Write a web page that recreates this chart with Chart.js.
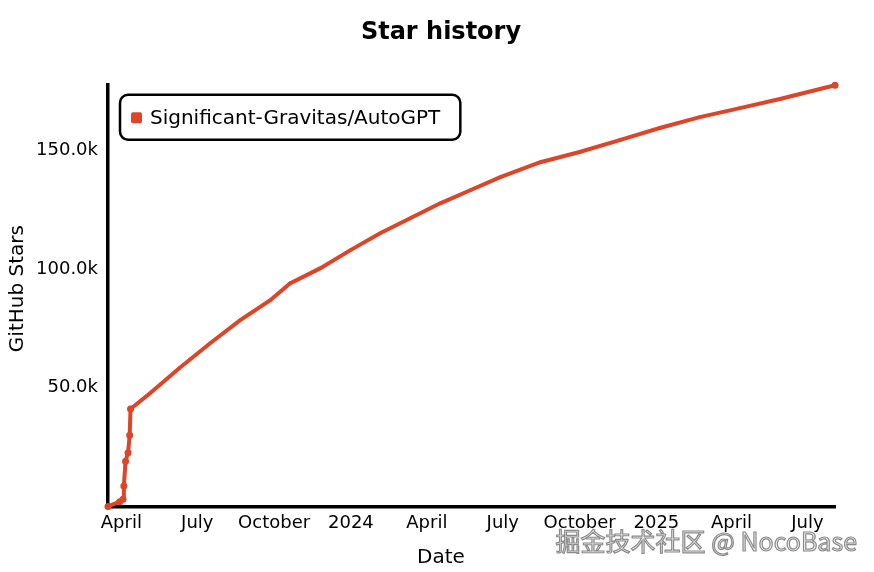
<!DOCTYPE html>
<html>
<head>
<meta charset="utf-8">
<script src="https://cdn.jsdelivr.net/npm/chart.js@4/dist/chart.umd.min.js"></script>
<style>
  html, body { margin: 0; padding: 0; background: #fff; }
  #wrap { width: 874px; height: 572px; }
</style>
</head>
<body>
<div id="wrap"><canvas id="chart" width="874" height="572"></canvas></div>
<script>
// star history of Significant-Gravitas/AutoGPT
const repoName = 'Significant-Gravitas/AutoGPT';
const dates = [
  '2023-03-16', '2023-03-30', '2023-04-03', '2023-04-04', '2023-04-06',
  '2023-04-09', '2023-04-11', '2023-04-12', '2023-05-05', '2023-06-10',
  '2023-07-16', '2023-08-21', '2023-09-26', '2023-10-20', '2023-11-25',
  '2023-12-31', '2024-02-05', '2024-03-12', '2024-04-17', '2024-05-23',
  '2024-06-28', '2024-08-15', '2024-10-01', '2024-11-18', '2025-01-05',
  '2025-02-22', '2025-04-11', '2025-05-29', '2025-08-03'
];
const stars = [
  0, 2000, 3000, 8600, 19000,
  22600, 30000, 41000, 47500, 58400,
  68600, 78300, 86700, 93900, 100200,
  107800, 115000, 121300, 127600, 133100,
  138600, 144900, 149200, 154200, 159300,
  163900, 167700, 171500, 177300
];
const tickDates = [
  '2023-04-01', '2023-07-01', '2023-10-01', '2024-01-01', '2024-04-01',
  '2024-07-01', '2024-10-01', '2025-01-01', '2025-04-01', '2025-07-01'
];
const tickLabels = ['April', 'July', 'October', '2024', 'April', 'July', 'October', '2025', 'April', 'July'];
const yTicks = [50000, 100000, 150000];
const yMax = 177500;

const DAY = 86400000;
const toDay = (s) => Date.parse(s + 'T00:00:00Z') / DAY;

const lineColor = '#dd4528';
const font = 'DejaVu Sans';

// legend drawn as a rounded box inside the plot
const legendBox = {
  id: 'legendBox',
  afterDatasetsDraw(chart) {
    const { ctx, chartArea } = chart;
    const ds = chart.data.datasets[0];
    const x = chartArea.left + 12, y = chartArea.top + 10;
    ctx.save();
    ctx.font = '20px "' + font + '"';
    const w = ctx.measureText(ds.label).width + 50;
    const h = 45;
    ctx.lineWidth = 2.5;
    ctx.strokeStyle = '#000';
    ctx.fillStyle = '#fff';
    ctx.beginPath();
    ctx.roundRect(x, y, w, h, 8);
    ctx.fill();
    ctx.stroke();
    ctx.fillStyle = ds.borderColor;
    ctx.beginPath();
    ctx.roundRect(x + 11, y + h / 2 - 5, 11, 11, 2);
    ctx.fill();
    ctx.fillStyle = '#000';
    ctx.textBaseline = 'middle';
    ctx.fillText(ds.label, x + 30, y + h / 2 + 1);
    ctx.restore();
  }
};

// titles are laid out by Chart.js (transparent) and painted centred on the page
const titles = {
  id: 'titles',
  afterDraw(chart) {
    const { ctx, scales, chartArea } = chart;
    const cx = chart.width / 2 + 4;
    ctx.save();
    ctx.fillStyle = '#000';
    ctx.textAlign = 'center';
    ctx.textBaseline = 'middle';
    ctx.font = 'bold 24px "' + font + '"';
    ctx.fillText('Star history', cx, 33);
    ctx.font = '20px "' + font + '"';
    ctx.fillText('Date', cx, scales.x.bottom - 10);
    ctx.translate(18, (chartArea.top + chartArea.bottom) / 2 - 7);
    ctx.rotate(-Math.PI / 2);
    ctx.fillText('GitHub Stars', 0, 0);
    ctx.restore();

    ctx.save();
    ctx.font = '25px "Noto Sans CJK SC"';
    ctx.textAlign = 'right';
    ctx.textBaseline = 'middle';
    ctx.lineWidth = 1.2;
    ctx.strokeStyle = 'rgba(120,120,120,0.85)';
    ctx.fillStyle = 'rgba(238,238,238,0.9)';
    ctx.fillText('掘金技术社区 @ NocoBase', 857, 541);
    ctx.strokeText('掘金技术社区 @ NocoBase', 857, 541);
    ctx.restore();
  }
};

const showDot = (i) => i < 8 || i === dates.length - 1;

new Chart(document.getElementById('chart'), {
  type: 'line',
  data: {
    datasets: [{
      label: repoName,
      data: dates.map((d, i) => ({ x: toDay(d), y: stars[i] })),
      borderColor: lineColor,
      backgroundColor: lineColor,
      borderWidth: 4,
      pointRadius: (c) => (showDot(c.dataIndex) ? 3.5 : 1.8),
      pointBorderWidth: 0,
      pointHoverRadius: 4,
      tension: 0,
      fill: false,
      clip: false,
    }],
  },
  options: {
    responsive: false,
    animation: false,
    layout: { padding: { left: 0, right: 39, top: 0, bottom: 4 } },
    plugins: {
      legend: { display: false },
      tooltip: { enabled: false },
      title: {
        display: true,
        text: 'Star history',
        color: 'rgba(0,0,0,0)',
        font: { family: font, size: 24, weight: 'bold' },
        padding: { top: 18, bottom: 38 },
      },
    },
    scales: {
      x: {
        type: 'linear',
        min: toDay(dates[0]),
        max: toDay(dates[dates.length - 1]),
        grid: { display: false, drawTicks: false },
        border: { display: true, color: '#000', width: 3.5 },
        afterBuildTicks: (axis) => {
          axis.ticks = tickDates.map((d) => ({ value: toDay(d) }));
        },
        ticks: {
          autoSkip: false,
          maxRotation: 0,
          padding: 6,
          color: '#000',
          font: { family: font, size: 18 },
          callback: (v, i) => tickLabels[i],
        },
        title: {
          display: true,
          text: 'Date',
          color: 'rgba(0,0,0,0)',
          font: { family: font, size: 20 },
          padding: { top: 4, bottom: 0 },
        },
      },
      y: {
        min: 0,
        max: yMax,
        grid: { display: false, drawTicks: false },
        border: { display: true, color: '#000', width: 3.5 },
        afterBuildTicks: (axis) => {
          axis.ticks = yTicks.map((v) => ({ value: v }));
        },
        afterFit: (axis) => { axis.width = 108; },
        ticks: {
          padding: 10,
          color: '#000',
          font: { family: font, size: 18 },
          callback: (v) => (v / 1000).toFixed(1) + 'k',
        },
        title: {
          display: false,
        },
      },
    },
  },
  plugins: [legendBox, titles],
});
</script>
</body>
</html>
